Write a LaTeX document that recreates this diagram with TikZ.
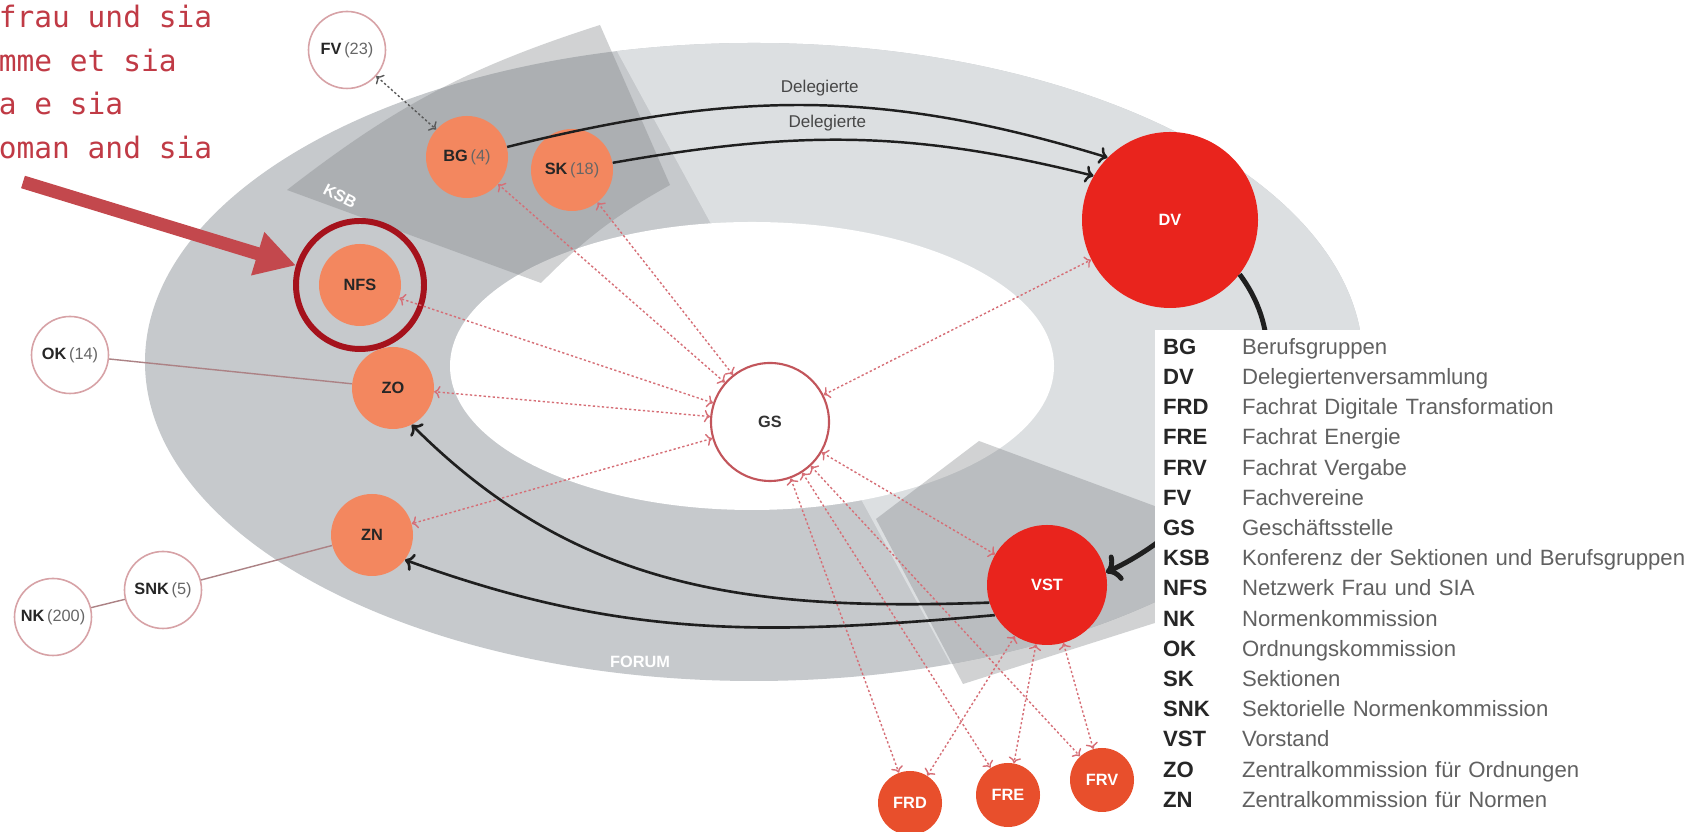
\documentclass[tikz,border=0pt]{standalone}
\usepackage{fontspec}
\setmainfont{Liberation Sans}
\newfontfamily\slogantype{DejaVu Sans Mono}
\usetikzlibrary{positioning,arrows.meta}

\definecolor{ringlight}{HTML}{DCDFE1}
\definecolor{ringmid}{HTML}{C6C9CC}
\definecolor{sectorgray}{HTML}{7D8083}
\definecolor{unitorange}{HTML}{F3875F}
\definecolor{boardred}{HTML}{E9241D}
\definecolor{councilred}{HTML}{E84F2C}
\definecolor{linkred}{HTML}{D66E76}
\definecolor{outpink}{HTML}{D7A2A6}
\definecolor{hubred}{HTML}{C2555B}
\definecolor{nfsred}{HTML}{A5121C}
\definecolor{pointerred}{HTML}{C3484D}
\definecolor{sloganred}{HTML}{C03A45}

\newcommand{\howmany}[1]{{\mdseries\color{black!60}\,(#1)}}

\tikzset{
    lbl/.style={font=\fontsize{9.3}{11}\selectfont\bfseries},
    orgunit/.style={lbl, circle, fill=unitorange, text=black!85, minimum size=1.64cm, inner sep=0pt},
    boardnode/.style={lbl, circle, fill=boardred, text=white, inner sep=0pt},
    council/.style={lbl, circle, fill=councilred, text=white, minimum size=1.28cm, inner sep=0pt},
    satellite/.style={lbl, circle, draw=outpink, line width=0.9pt, fill=white, text=black!85, minimum size=1.54cm, inner sep=0pt},
    hub/.style={lbl, circle, draw=hubred, line width=1.2pt, fill=white, text=black!80, minimum size=2.36cm, inner sep=0pt},
    link/.style={<->, draw=linkred, line width=0.8pt, dash pattern=on 1.3pt off 1.3pt},
    flowline/.style={->, draw=black!88, line width=1.4pt},
    tieline/.style={draw=outpink!80!black, line width=0.8pt},
    delegate/.style={font=\fontsize{9.7}{11}\selectfont, text=black!72},
    pointer/.style={draw=pointerred, line width=7.4pt, -{Triangle[length=8mm,width=8.5mm]}},
    legabbr/.style={font=\fontsize{12.6}{14}\selectfont\bfseries, text=black!85, text width=1.3cm, inner sep=0pt, text height=0.33cm, text depth=0.08cm, node distance=0.604cm},
    legtext/.style={font=\fontsize{12.6}{14}\selectfont, text=black!62, text width=9cm, inner sep=0pt, text height=0.33cm, text depth=0.08cm, node distance=5.43cm},
}

\begin{document}
\begin{tikzpicture}
        \useasboundingbox (0,0) rectangle (33.92,16.64);
        \fill[white] (0,0) rectangle (33.92,16.64);

        \fill[ringmid] (15.08,9.4) ellipse (12.18 and 6.38);
        \begin{scope}
            \clip (11.04,18) -- (40,18) -- (40,-1) -- (21.39,-1) -- cycle;
            \fill[ringlight] (15.08,9.4) ellipse (12.18 and 6.38);
        \end{scope}
        \fill[white] (15.04,9.32) ellipse (6.04 and 2.88);

        \fill[sectorgray, fill opacity=0.35] (5.74,12.84) to[bend left=10] (12.0,16.14) -- (13.4,12.94) to[bend right=8] (10.82,10.98) -- cycle;
        \fill[sectorgray, fill opacity=0.35] (19.58,7.82) -- (25.2,5.74) -- (23.6,4.34) -- (19.26,2.96) -- (17.52,6.26) -- cycle;
        \node[lbl, text=white, rotate=-27] (ksb) at (6.8,12.72) {KSB};
        \node[lbl, text=white] (forum) at (12.8,3.4) {FORUM};

        \node[satellite] (FV) at (6.94,15.64) {FV\howmany{23}};
        \node[orgunit] (BG) at (9.34,13.5) {BG\howmany{4}};
        \node[orgunit] (SK) at (11.44,13.24) {SK\howmany{18}};
        \node[orgunit] (NFS) at (7.2,10.94) {NFS};
        \node[circle, draw=nfsred, line width=3.4pt, minimum size=2.56cm] (NFSring) at (NFS) {};
        \node[orgunit] (ZO) at (7.86,8.88) {ZO};
        \node[orgunit] (ZN) at (7.44,5.94) {ZN};
        \node[satellite] (OK) at (1.4,9.54) {OK\howmany{14}};
        \node[satellite] (SNK) at (3.26,4.84) {SNK\howmany{5}};
        \node[satellite] (NK) at (1.06,4.3) {NK\howmany{200}};
        \node[hub] (GS) at (15.4,8.2) {GS};
        \node[boardnode, minimum size=3.52cm] (DV) at (23.4,12.24) {DV};
        \node[boardnode, minimum size=2.4cm] (VST) at (20.94,4.94) {VST};
        \node[council] (FRD) at (18.2,0.58) {FRD};
        \node[council] (FRE) at (20.16,0.74) {FRE};
        \node[council] (FRV) at (22.04,1.04) {FRV};

        \draw[tieline] (OK) -- (ZO);
        \draw[tieline] (SNK) -- (ZN);
        \draw[tieline] (NK) -- (SNK);

        \draw[link, draw=black!65] (FV) -- (BG);
        \draw[link] (GS) -- (BG);
        \draw[link] (GS) -- (SK);
        \draw[link] (GS) -- (NFS);
        \draw[link] (GS) -- (ZO);
        \draw[link] (GS) -- (ZN);
        \draw[link] (GS) -- (DV);
        \draw[link] (GS) -- (VST);
        \draw[link] (GS) -- (FRD);
        \draw[link] (GS) -- (FRE);
        \draw[link] (GS) -- (FRV);
        \draw[link] (VST) -- (FRD);
        \draw[link] (VST) -- (FRE);
        \draw[link] (VST) -- (FRV);

        \draw[flowline] (BG) to[out=14, in=163] node[pos=0.52, above=1pt, delegate] {Delegierte} (DV.north west);
        \draw[flowline] (SK) to[out=10, in=166] node[pos=0.44, above=1pt, delegate] {Delegierte} (DV.150);
        \draw[flowline, line width=2.8pt] (DV.-38) to[out=-53, in=25] (VST.12);
        \draw[flowline, line width=1.5pt] (VST.197) to[out=182, in=-45] (ZO.-63);
        \draw[flowline, line width=1.5pt] (VST.210) to[out=185, in=-20] (ZN.-37);

        \fill[white] (23.1,-0.5) rectangle (34.5,10.04);
        \node[legabbr] (lBG) at (23.91,9.68) {BG};
        \node[legtext, right of=lBG] {Berufsgruppen};
        \node[legabbr, below of=lBG] (lDV) {DV};
        \node[legtext, right of=lDV] {Delegiertenversammlung};
        \node[legabbr, below of=lDV] (lFRD) {FRD};
        \node[legtext, right of=lFRD] {Fachrat Digitale Transformation};
        \node[legabbr, below of=lFRD] (lFRE) {FRE};
        \node[legtext, right of=lFRE] {Fachrat Energie};
        \node[legabbr, below of=lFRE] (lFRV) {FRV};
        \node[legtext, right of=lFRV] {Fachrat Vergabe};
        \node[legabbr, below of=lFRV] (lFV) {FV};
        \node[legtext, right of=lFV] {Fachvereine};
        \node[legabbr, below of=lFV] (lGS) {GS};
        \node[legtext, right of=lGS] {Geschäftsstelle};
        \node[legabbr, below of=lGS] (lKSB) {KSB};
        \node[legtext, right of=lKSB] {Konferenz der Sektionen und Berufsgruppen};
        \node[legabbr, below of=lKSB] (lNFS) {NFS};
        \node[legtext, right of=lNFS] {Netzwerk Frau und SIA};
        \node[legabbr, below of=lNFS] (lNK) {NK};
        \node[legtext, right of=lNK] {Normenkommission};
        \node[legabbr, below of=lNK] (lOK) {OK};
        \node[legtext, right of=lOK] {Ordnungskommission};
        \node[legabbr, below of=lOK] (lSK) {SK};
        \node[legtext, right of=lSK] {Sektionen};
        \node[legabbr, below of=lSK] (lSNK) {SNK};
        \node[legtext, right of=lSNK] {Sektorielle Normenkommission};
        \node[legabbr, below of=lSNK] (lVST) {VST};
        \node[legtext, right of=lVST] {Vorstand};
        \node[legabbr, below of=lVST] (lZO) {ZO};
        \node[legtext, right of=lZO] {Zentralkommission für Ordnungen};
        \node[legabbr, below of=lZO] (lZN) {ZN};
        \node[legtext, right of=lZN] {Zentralkommission für Normen};

        \node[anchor=north west, inner sep=0pt, align=left, text=sloganred, font=\slogantype\fontsize{16.8}{24.75}\selectfont] (slogan) at (-0.03,16.54) {frau und sia\\mme et sia\\a e sia\\oman and sia};
        \coordinate (ptrstart) at (0.46,13.0);
        \draw[pointer] (ptrstart) -- (NFSring);
\end{tikzpicture}
\end{document}
